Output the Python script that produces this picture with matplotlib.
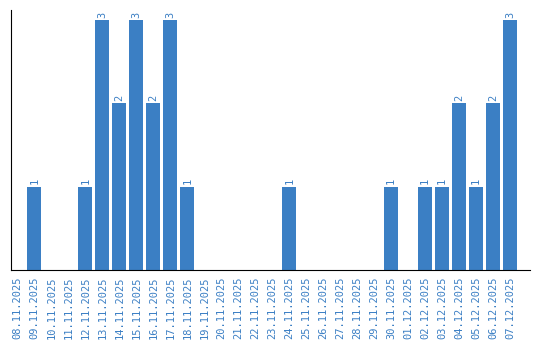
import matplotlib
matplotlib.use("Agg")
import matplotlib.pyplot as plt

dates = ["08.11.2025", "09.11.2025", "10.11.2025", "11.11.2025", "12.11.2025",
         "13.11.2025", "14.11.2025", "15.11.2025", "16.11.2025", "17.11.2025",
         "18.11.2025", "19.11.2025", "20.11.2025", "21.11.2025", "22.11.2025",
         "23.11.2025", "24.11.2025", "25.11.2025", "26.11.2025", "27.11.2025",
         "28.11.2025", "29.11.2025", "30.11.2025", "01.12.2025", "02.12.2025",
         "03.12.2025", "04.12.2025", "05.12.2025", "06.12.2025", "07.12.2025"]
counts = [0, 1, 0, 0, 1, 3, 2, 3, 2, 3, 1, 0, 0, 0, 0, 0, 1, 0, 0, 0,
          0, 0, 1, 0, 1, 1, 2, 1, 2, 3]

color = "#3b7fc4"
fig = plt.figure(figsize=(5.4, 3.4), dpi=100)
W, H = 540, 340
ax = fig.add_axes([11 / W, (H - 270) / H, (530 - 11) / W, 260 / H])

x = list(range(len(dates)))
ax.bar(x, counts, width=0.82, color=color)
for xi, v in zip(x, counts):
    if v > 0:
        ax.text(xi, v + 0.03, str(v), rotation=90, ha="center", va="bottom",
                color=color, fontsize=7.5, family="DejaVu Sans Mono")

ax.set_xlim(-0.38, len(dates) - 1 + 1.17)
ax.set_ylim(0, 3.12)
ax.set_xticks(x)
ax.set_xticklabels(dates, rotation=90, color=color, fontsize=7.5,
                   family="DejaVu Sans Mono")
ax.tick_params(axis="x", length=0, pad=5)
ax.set_yticks([])
ax.spines["top"].set_visible(False)
ax.spines["right"].set_visible(False)
ax.spines["left"].set_color("black")
ax.spines["bottom"].set_color("black")

fig.savefig("out.png", dpi=100)
